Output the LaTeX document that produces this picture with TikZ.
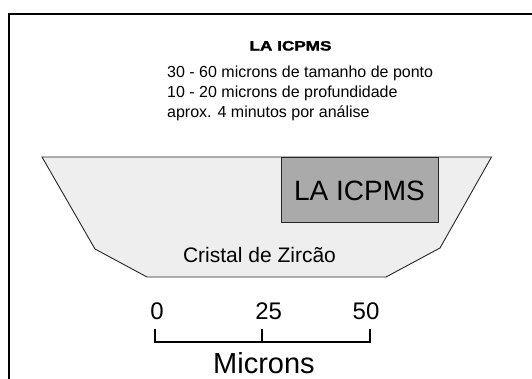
\documentclass[tikz,border=0pt]{standalone}
\usepackage{fontspec}
\setmainfont{Liberation Sans}
\newfontfamily\titlefont{Liberation Sans}[UprightFont=*-Bold,FakeBold=1.6]
\usepackage{graphicx}
\definecolor{crystal}{HTML}{EEEEEE}
\definecolor{spot}{HTML}{AAAAAA}
\begin{document}
\begin{tikzpicture}[x=1pt,y=-1pt,
  txt/.style={inner sep=0pt,anchor=base,text depth=0pt},
  body/.style={inner sep=0pt,anchor=base west,font=\fontsize{16}{20}\selectfont},
  ruler/.style={line width=2pt},
]
\useasboundingbox (0,0) rectangle (532,378);
\clip (0,0) rectangle (532,378);
% frame
\draw[line width=2pt] (9,380) -- (9,14) -- (534,14);
% title and notes
\node[txt,font=\titlefont\fontsize{13.5}{16}\selectfont] (title) at (290.5,50.5) {\scalebox{1.27}[1]{LA ICPMS}};
\node[body] (l1) at (167,77) {30 - 60 microns de tamanho de ponto};
\node[body] (l2) at (167,97) {10 - 20 microns de profundidade};
\node[body] (l3) at (167,117) {aprox. 4 minutos por análise};
% crystal
\draw[fill=crystal,line width=0.9pt,draw=black!85] (42,157) -- (491.5,157) -- (440,248) -- (386,277) -- (147,277) -- (95,249) -- cycle;
\node[draw=black!85,line width=0.9pt,fill=spot,minimum width=157pt,minimum height=65pt,inner sep=0pt] (spot) at (359.5,189.5) {};
\node[txt,font=\fontsize{28}{30}\selectfont] (spotlabel) at (359.5,200.7) {LA ICPMS};
\node[txt,font=\fontsize{21}{24}\selectfont] (crystal) at (259.5,262) {Cristal de Zircão};
% scale bar
\coordinate (s0) at (155,342);
\coordinate (s25) at (262,342);
\coordinate (s50) at (369.5,342);
\coordinate (t0) at (155,329);
\coordinate (t25) at (262,329);
\coordinate (t50) at (369.5,329);
\draw[ruler] (t0) -- (s0) -- (s50) -- (t50);
\draw[ruler] (s25) -- (t25);
\node[txt,font=\fontsize{24}{26}\selectfont] (n0) at (157,319.5) {0};
\node[txt,font=\fontsize{24}{26}\selectfont] (n25) at (268.7,319.5) {25};
\node[txt,font=\fontsize{24}{26}\selectfont] (n50) at (366,319.5) {50};
\node[txt,font=\fontsize{29}{31}\selectfont] (microns) at (264,373) {Microns};
\end{tikzpicture}
\end{document}
